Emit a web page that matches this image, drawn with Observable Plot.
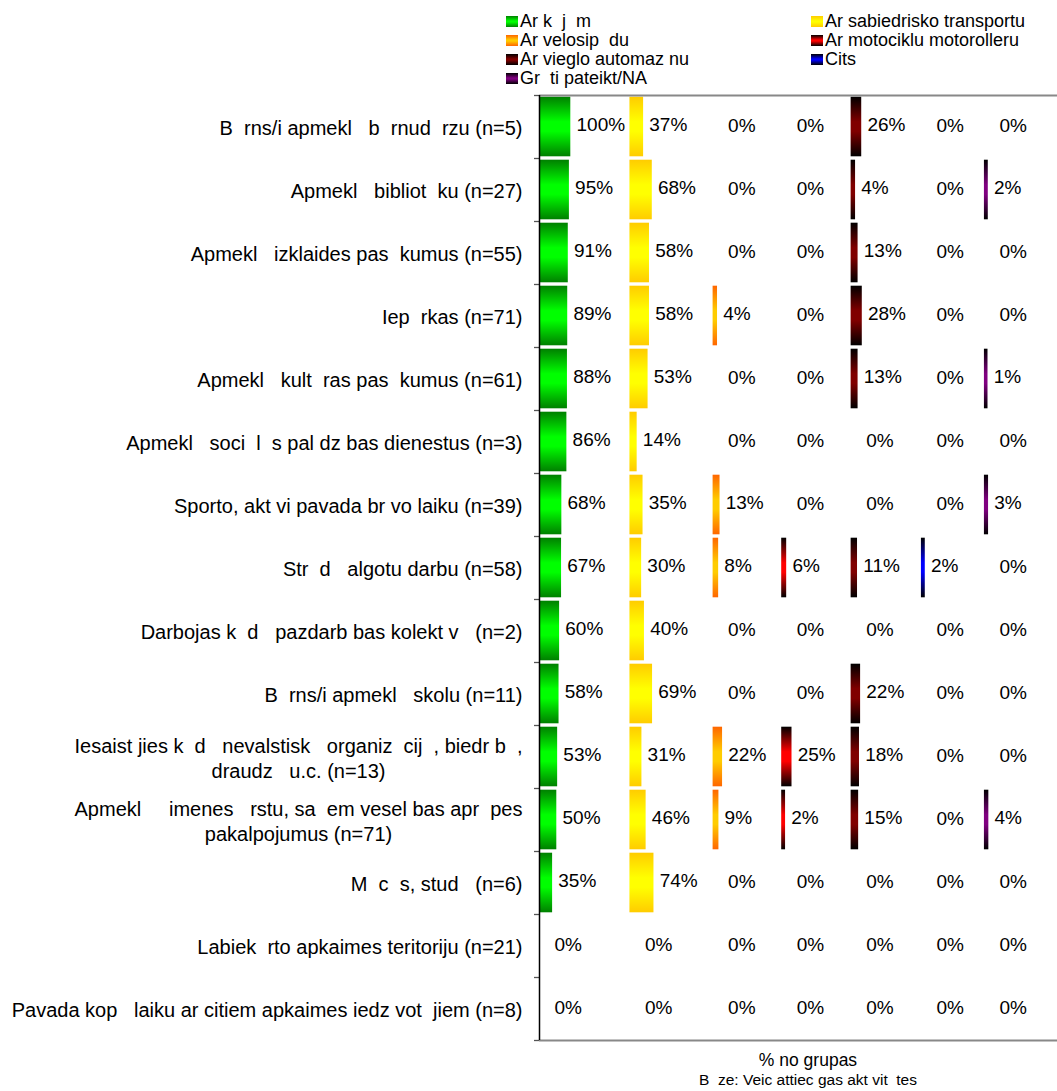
<!DOCTYPE html>
<html>
<head>
<meta charset="utf-8">
<script src="https://cdn.jsdelivr.net/npm/d3@7"></script>
<script src="https://cdn.jsdelivr.net/npm/@observablehq/plot@0.6"></script>
<style>
  html, body { margin: 0; padding: 0; background: #fff; }
  #wrap { position: relative; width: 1057px; height: 1091px; overflow: hidden;
          font-family: "Liberation Sans", Arial, sans-serif; color: #000; }
  .li { position: absolute; font-size: 18px; line-height: 19px; white-space: pre; display: flex; align-items: center; }
  .sw { width: 12px; height: 11px; margin-right: 2px; flex: none; }
  #chart { position: absolute; left: 0; top: 93px; }
  .foot { position: absolute; left: 559px; width: 498px; text-align: center; white-space: pre; }
</style>
</head>
<body>
<div id="wrap">
  <div id="legend"></div>
  <div id="chart"></div>
  <div class="foot" id="foot1" style="top:1050px;font-size:17.5px;line-height:20px;"></div>
  <div class="foot" id="foot2" style="top:1071px;font-size:15.5px;line-height:18px;"></div>
</div>
<script>
// ---------- data ----------
const categories = [
  "Bērns/i apmeklē bērnudārzu (n=5)",
  "Apmeklē bibliotēku (n=27)",
  "Apmeklē izklaides pasākumus (n=55)",
  "Iepērkas (n=71)",
  "Apmeklē kultūras pasākumus (n=61)",
  "Apmeklē sociālās palīdzības dienestus (n=3)",
  "Sporto, aktīvi pavada brīvo laiku (n=39)",
  "Strādā algotu darbu (n=58)",
  "Darbojas kādā pašdarbības kolektīvā (n=2)",
  "Bērns/i apmeklē skolu (n=11)",
  "Iesaistījies kādā nevalstiskā organizācijā, biedrībā,\ndraudzē u.c. (n=13)",
  "Apmeklē ģimenes ārstu, saņem veselības aprūpes\npakalpojumus (n=71)",
  "Mācās, studē (n=6)",
  "Labiekārto apkaimes teritoriju (n=21)",
  "Pavada kopā laiku ar citiem apkaimes iedzīvotājiem (n=8)"
];
const seriesNames = [
  "Ar kājām",
  "Ar sabiedrisko transportu",
  "Ar velosipēdu",
  "Ar motociklu motorolleru",
  "Ar vieglo automašīnu",
  "Cits",
  "Grūti pateikt/NA"
];
const kajam        = [100, 95, 91, 89, 88, 86, 68, 67, 60, 58, 53, 50, 35, 0, 0];
const sabiedriskais = [37, 68, 58, 58, 53, 14, 35, 30, 40, 69, 31, 46, 74, 0, 0];
const velosipeds   = [0, 0, 0, 4, 0, 0, 13, 8, 0, 0, 22, 9, 0, 0, 0];
const motocikls    = [0, 0, 0, 0, 0, 0, 0, 6, 0, 0, 25, 2, 0, 0, 0];
const automasina   = [26, 4, 13, 28, 13, 0, 0, 11, 0, 22, 18, 15, 0, 0, 0];
const cits         = [0, 0, 0, 0, 0, 0, 0, 2, 0, 0, 0, 0, 0, 0, 0];
const gruti        = [0, 2, 0, 0, 1, 0, 3, 0, 0, 0, 0, 4, 0, 0, 0];
const axisTitle = "% no grupas";
const baseNote = "Bāze: Veic attiecīgas aktīvitātes";

// ---------- styles ----------
const gradColors = [
  ["#008000", "#00ff00"],
  ["#ffcc00", "#ffff00"],
  ["#ff6600", "#ffcc00"],
  ["#000000", "#ff0000"],
  ["#000000", "#800000"],
  ["#000000", "#0000ff"],
  ["#000000", "#800080"]
];
// the source rendering lost the Latvian diacritic glyphs; reproduce that look
const shown = s => s.replace(/š/g, "z")
  .replace(/[ēāūņģ]/g, "\u00a0\u00a0")
  .replace(/ī/g, "\u00a0");

// ---------- legend ----------
const legend = document.getElementById("legend");
seriesNames.forEach((name, i) => {
  const col = i % 2, row = Math.floor(i / 2);
  const el = document.createElement("div");
  el.className = "li";
  el.style.left = (col ? 811 : 506) + "px";
  el.style.top = (12 + row * 19.1) + "px";
  const sw = document.createElement("div");
  sw.className = "sw";
  const [e, c] = gradColors[i];
  sw.style.background = `linear-gradient(to bottom, ${e} 0%, ${c} 45%, ${c} 55%, ${e} 100%)`;
  el.appendChild(sw);
  el.appendChild(document.createTextNode(shown(name)));
  legend.appendChild(el);
});
document.getElementById("foot1").textContent = axisTitle;
document.getElementById("foot2").textContent = shown(baseNote);

// ---------- chart ----------
const cols = [kajam, sabiedriskais, velosipeds, motocikls, automasina, cits, gruti];
const n = categories.length;
const gap = 223;                           // spacer between panels, in % units
const maxes = cols.map(c => d3.max(c));
const offsets = cols.map((c, i) => d3.sum(maxes.slice(0, i)) + i * gap);
const table = cols.flatMap((vals, s) => vals.map((v, r) => ({
  s, r, v, x0: offsets[s], x1: offsets[s] + v, label: v + "%"
})));

const defsMark = () => {
  const ns = "http://www.w3.org/2000/svg";
  const defs = document.createElementNS(ns, "defs");
  gradColors.forEach(([e, c], i) => {
    const lg = document.createElementNS(ns, "linearGradient");
    lg.setAttribute("id", "grad" + i);
    lg.setAttribute("x1", 0); lg.setAttribute("y1", 0);
    lg.setAttribute("x2", 0); lg.setAttribute("y2", 1);
    [[0, e], [0.42, c], [0.58, c], [1, e]].forEach(([o, col]) => {
      const st = document.createElementNS(ns, "stop");
      st.setAttribute("offset", o);
      st.setAttribute("stop-color", col);
      lg.appendChild(st);
    });
    defs.appendChild(lg);
  });
  return defs;
};

const pxPerUnit = 0.28;
const plotW = 1057 - 539;
const valueFont = 19;
const catFont = 20;

const barMarks = cols.map((c, s) => Plot.rectX(table.filter(d => d.s === s && d.v > 0), {
  x1: "x0", x2: "x1",
  y1: d => d.r + 0.027, y2: d => d.r + 0.973,
  fill: `url(#grad${s})`,
  insetRight: -3.3
}));

const chart = Plot.plot({
  width: 1057,
  height: 949,
  marginTop: 2,
  marginBottom: 2,
  marginLeft: 539,
  marginRight: 0,
  x: {domain: [0, plotW / pxPerUnit], axis: null},
  y: {domain: [0, n], reverse: true, axis: null},
  style: {fontFamily: "Liberation Sans, Arial, sans-serif", fontSize: valueFont + "px", color: "#000", background: "#fff", overflow: "visible"},
  marks: [
    defsMark,
    ...barMarks,
    Plot.text(table.filter(d => d.v > 0), {
      x: "x1", y: d => d.r + 0.5, text: "label",
      textAnchor: "start", dx: 9, dy: -2, fontSize: valueFont, fill: "#000"
    }),
    Plot.text(table.filter(d => d.v === 0), {
      x: "x0", y: d => d.r + 0.5, text: "label",
      textAnchor: "start", dx: 15, dy: -1, fontSize: valueFont, fill: "#000"
    }),
    Plot.text(categories, {
      y: (d, i) => i + 0.5, text: d => shown(d),
      frameAnchor: "left", textAnchor: "end", dx: -17, fontSize: catFont, lineHeight: 1.25, fill: "#000"
    }),
    Plot.ruleY(d3.range(n + 1), {x1: 0, x2: 0, insetLeft: -5, stroke: "#555", strokeWidth: 1.3}),
    Plot.ruleY([0, n], {stroke: "#888", strokeWidth: 2}),
    Plot.ruleX([0], {stroke: "#000", strokeWidth: 1.5})
  ]
});
document.getElementById("chart").appendChild(chart);

// center the wrapped lines of multi-line category labels on each other
chart.querySelectorAll("text").forEach(t => {
  const spans = t.querySelectorAll("tspan");
  if (spans.length > 1) {
    const w = d3.max(Array.from(spans), sp => sp.getComputedTextLength());
    t.setAttribute("text-anchor", "middle");
    spans.forEach(sp => sp.setAttribute("x", -w / 2));
  }
});
</script>
</body>
</html>
